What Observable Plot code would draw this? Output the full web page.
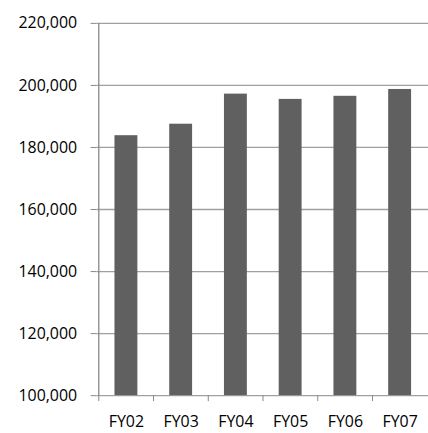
<!DOCTYPE html>
<html>
<head>
<meta charset="utf-8">
<script src="https://cdn.jsdelivr.net/npm/d3@7"></script>
<script src="https://cdn.jsdelivr.net/npm/@observablehq/plot@0.6"></script>
<style>
  html, body { margin: 0; padding: 0; background: #fff; overflow: hidden; }
  #chart { width: 428px; height: 433px; overflow: hidden; }
</style>
</head>
<body>
<div id="chart"></div>
<script>
const categories = ["FY02", "FY03", "FY04", "FY05", "FY06", "FY07"];
const values = [183800, 187500, 197200, 195500, 196500, 198700];
const yTicks = [100000, 120000, 140000, 160000, 180000, 200000, 220000];

const data = categories.map((c, i) => ({ cat: c, value: values[i] }));
const fmt = d3.format(",");
const font = "'Open Sans', sans-serif";
const halfStep = 27.75;

const chart = Plot.plot({
  width: 430,
  height: 433,
  marginLeft: 97,
  marginRight: 0,
  marginTop: 23,
  marginBottom: 36,
  style: { fontFamily: font, fontSize: "16px", color: "#000", background: "#fff" },
  x: { domain: categories, paddingInner: 0.585, paddingOuter: 0.2925, label: null },
  y: { domain: [100000, 220000], label: null },
  marks: [
    Plot.gridY(yTicks, { stroke: "#a0a0a0", strokeOpacity: 1, strokeWidth: 1.3 }),
    Plot.barY(data, { x: "cat", y1: 100000, y2: "value", fill: "#606060" }),
    Plot.ruleX([categories[0]], { x: d => d, y1: 100000, y2: 220000, dx: -halfStep, stroke: "#888", strokeWidth: 1.3 }),
    Plot.axisY(yTicks, {
      tickFormat: fmt, tickSize: 6, tickPadding: 14, stroke: "#888",
      fill: "#000", fontSize: 16, fontFamily: font
    }),
    Plot.axisX(categories, {
      tickSize: 6, dx: -halfStep, text: null, stroke: "#888"
    }),
    Plot.axisX(categories, {
      tickSize: 0, tickPadding: 20, fill: "#000", fontSize: 16, fontFamily: font
    })
  ]
});

document.getElementById("chart").appendChild(chart);
</script>
</body>
</html>
